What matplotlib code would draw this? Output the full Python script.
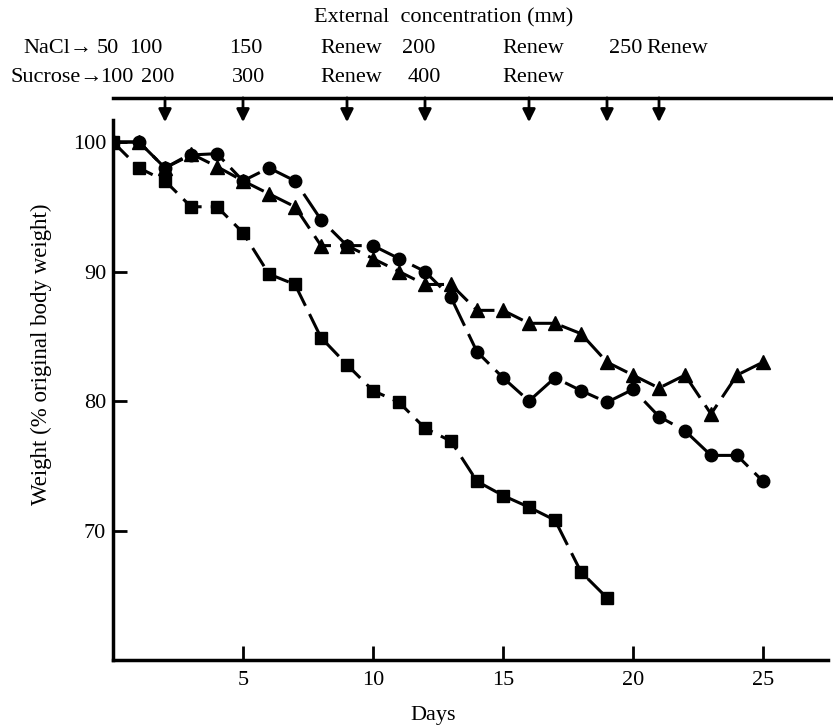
import numpy as np
import matplotlib.pyplot as plt
import matplotlib.transforms as mtransforms

plt.rcParams['font.family'] = ['Liberation Serif', 'DejaVu Serif']

# weight (% original body weight) per day
days_sq = np.arange(0, 20)
w_sq = [100, 98, 97, 95, 95, 93, 89.8, 89, 84.9, 82.8, 80.8, 79.9, 77.9, 76.9,
        73.8, 72.7, 71.8, 70.8, 66.8, 64.8]

days_ci = np.arange(0, 26)
w_ci = [100, 100, 98, 99, 99.1, 97, 98, 97, 94, 92, 92, 91, 90, 88, 83.8, 81.8,
        80, 81.8, 80.8, 79.9, 80.9, 78.8, 77.7, 75.8, 75.8, 73.8]

days_tr = np.arange(0, 26)
w_tr = [100, 100, 98, 99.1, 98.1, 97, 96, 95, 92, 92, 91, 90, 89, 89, 87, 87,
        86, 86, 85.2, 83, 82, 81, 82, 79, 82, 83]

# days on which the external medium was changed
change_days = [2, 5, 9, 12, 16, 19, 21]
nacl_labels = ['50', '100', '150', 'Renew', '200', 'Renew', '250', 'Renew']
sucrose_labels = ['100', '200', '300', 'Renew', '400', 'Renew']

fs = 16

fig = plt.figure(figsize=(8.33, 7.27), dpi=100)
ax = fig.add_axes([113/833, 67/727, 715/833, 540/727])

ax.plot(days_sq, w_sq, color='black', lw=2.2, dashes=(7, 3),
        marker='s', ms=8.5, mfc='black', mec='black')
ax.plot(days_ci, w_ci, color='black', lw=2.2, dashes=(12, 3),
        marker='o', ms=9, mfc='black', mec='black')
ax.plot(days_tr, w_tr, color='black', lw=2.2, dashes=(7, 3),
        marker='^', ms=10, mfc='black', mec='black')

ax.set_xlim(0, 27.5)
ax.set_ylim(60, 101.7)
ax.set_xticks([5, 10, 15, 20, 25])
ax.set_yticks([70, 80, 90, 100])
ax.tick_params(direction='in', length=10, width=2, labelsize=fs)
ax.tick_params(axis='x', pad=8)
ax.tick_params(axis='y', pad=5)
for s in ['top', 'right']:
    ax.spines[s].set_visible(False)
for s in ['left', 'bottom']:
    ax.spines[s].set_linewidth(2.5)

ax.set_xlabel('Days', fontsize=fs)
ax.xaxis.set_label_coords(0.448, -0.085)
ax.set_ylabel('Weight (% original body weight)', fontsize=16.5)
ax.yaxis.set_label_coords(-0.085, 0.567)

# top bar with arrows
trans = mtransforms.blended_transform_factory(ax.transData, ax.transAxes)
ax.plot([0, 27.7], [1.041, 1.041], color='black', lw=2.5,
        transform=trans, clip_on=False)
for d in change_days:
    ax.annotate('', xy=(d, 0.996), xycoords=trans,
                xytext=(d, 1.041), textcoords=trans,
                arrowprops=dict(arrowstyle='-|>', color='black', lw=2,
                                mutation_scale=19, shrinkA=0, shrinkB=0))

ax.text(12.7, 1.19, 'External  concentration (m\u1d0d)', transform=trans,
        ha='center', va='center', fontsize=fs)

nacl_x = [-0.19, 1.27, 5.1, 9.15, 11.77, 16.15, 19.7, 21.7]
sucrose_x = [0.15, 1.73, 5.23, 9.15, 11.96, 16.15]
ax.text(-0.77, 1.132, 'NaCl\u2192', transform=trans, ha='right', va='center', fontsize=fs)
for xx, lab in zip(nacl_x, nacl_labels):
    ax.text(xx, 1.132, lab, transform=trans, ha='center', va='center', fontsize=fs)
ax.text(-0.4, 1.078, 'Sucrose\u2192', transform=trans, ha='right', va='center', fontsize=fs)
for xx, lab in zip(sucrose_x, sucrose_labels):
    ax.text(xx, 1.078, lab, transform=trans, ha='center', va='center', fontsize=fs)

fig.savefig('out.png', dpi=100)
